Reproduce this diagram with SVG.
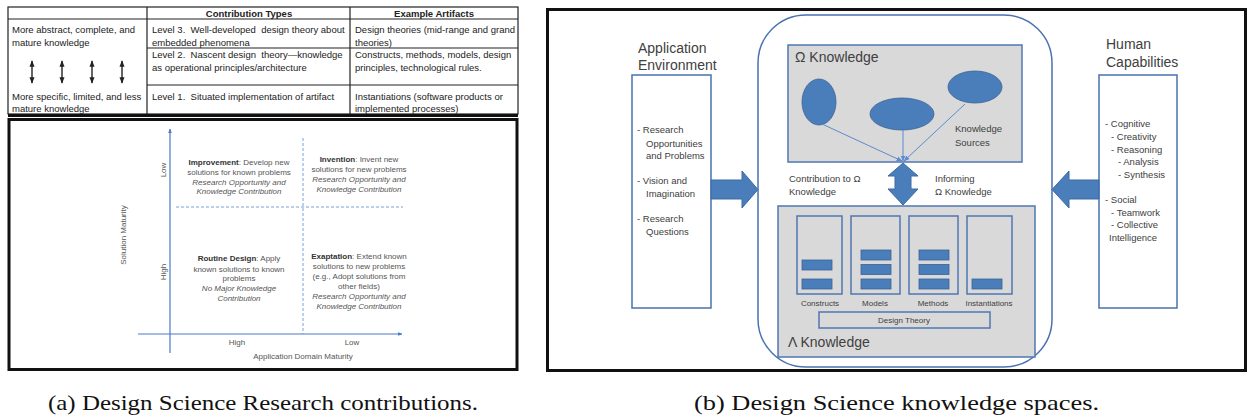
<svg xmlns="http://www.w3.org/2000/svg" width="1249" height="419" viewBox="0 0 1249 419">
<style>
.tb{font-family:"Liberation Sans",Arial,sans-serif;font-size:9.5px;fill:#222}
.pre{white-space:pre}
.tbh{font-family:"Liberation Sans",Arial,sans-serif;font-size:9.5px;font-weight:bold;fill:#222;text-anchor:middle}
.ch{font-family:"Liberation Sans",Arial,sans-serif;font-size:8px;fill:#555;text-anchor:middle}
.chi{font-style:italic}
.chb{font-weight:bold;fill:#333}
.rp{font-family:"Liberation Sans",Arial,sans-serif;fill:#404040}
.t14{font-size:14px}
.t9{font-size:9.5px}
.t8{font-size:8px;text-anchor:middle}
.cap{font-family:"Liberation Serif","Times New Roman",serif;font-size:21px;fill:#111}
.bl{stroke:#4a72b0;stroke-width:1.5;fill:none}
.gbox{fill:#d9d9d9;stroke:#4f77b3;stroke-width:1.5}
.bar{fill:#4a7ebb;stroke:#3a6296;stroke-width:0.8}
.bigarrow{fill:#4a7ebb;stroke:#3c6aa5;stroke-width:1}
.ax{stroke:#4a7bc4;stroke-width:1.2;fill:none}
.dash{stroke:#7aa2d8;stroke-width:1;stroke-dasharray:3,2;fill:none}
.thin{stroke:#5b8bd0;stroke-width:1;fill:none}
</style>
<defs>
<marker id="dbl" viewBox="0 0 10 10" refX="9" refY="5" markerWidth="4.5" markerHeight="4.5" orient="auto-start-reverse">
<path d="M0,1 L10,5 L0,9 Z" fill="#222"/>
</marker>
<marker id="axh" viewBox="0 0 10 10" refX="9" refY="5" markerWidth="4" markerHeight="4" orient="auto">
<path d="M0,1 L10,5 L0,9 Z" fill="#4a7bc4"/>
</marker>
<marker id="tip" viewBox="0 0 10 10" refX="9" refY="5" markerWidth="6" markerHeight="6" orient="auto">
<path d="M0,1 L10,5 L0,9 Z" fill="#5b8bd0"/>
</marker>
</defs>
<rect width="1249" height="419" fill="#fff"/>

<!-- (a) Table -->
<g id="table">
<rect x="8" y="7" width="510" height="107" fill="#fff" stroke="#222" stroke-width="1.2"/>
<line x1="8" y1="19" x2="518" y2="19" stroke="#222" stroke-width="1.2"/>
<line x1="147" y1="7" x2="147" y2="114" stroke="#222" stroke-width="1.2"/>
<line x1="350" y1="7" x2="350" y2="114" stroke="#222" stroke-width="1.2"/>
<line x1="147" y1="48" x2="518" y2="48" stroke="#222" stroke-width="1.2"/>
<line x1="147" y1="85" x2="518" y2="85" stroke="#222" stroke-width="1.2"/>
<line x1="8" y1="115.5" x2="518" y2="115.5" stroke="#111" stroke-width="3"/>
<text class="tbh" x="249" y="17">Contribution Types</text>
<text class="tbh" x="434" y="17">Example Artifacts</text>
<text class="tb" x="12" y="32.5">More abstract, complete, and</text>
<text class="tb" x="12" y="45.5">mature knowledge</text>
<text class="tb" x="12" y="99.5">More specific, limited, and less</text>
<text class="tb" x="12" y="111.5">mature knowledge</text>
<text class="tb pre" x="152" y="32.5">Level 3.  Well-developed  design theory about</text>
<text class="tb" x="152" y="45.5">embedded phenomena</text>
<text class="tb pre" x="152" y="57.5">Level 2.  Nascent design  theory—knowledge</text>
<text class="tb" x="152" y="71">as operational principles/architecture</text>
<text class="tb pre" x="152" y="99.5">Level 1.  Situated implementation of artifact</text>
<text class="tb" x="355" y="32.5">Design theories (mid-range and grand</text>
<text class="tb" x="355" y="45.5">theories)</text>
<text class="tb" x="355" y="57.5">Constructs, methods, models, design</text>
<text class="tb" x="355" y="71">principles, technological rules.</text>
<text class="tb" x="355" y="99.5">Instantiations (software products or</text>
<text class="tb" x="355" y="111.5">implemented processes)</text>
<g stroke="#222" stroke-width="1.4" marker-start="url(#dbl)" marker-end="url(#dbl)">
<line x1="32" y1="61" x2="32" y2="83"/>
<line x1="62" y1="61" x2="62" y2="83"/>
<line x1="92" y1="61" x2="92" y2="83"/>
<line x1="122" y1="61" x2="122" y2="83"/>
</g>
</g>

<!-- (a) Chart -->
<g id="chart">
<rect x="9" y="119.5" width="508" height="250" fill="#fff" stroke="#111" stroke-width="3"/>
<line class="ax" x1="170" y1="353" x2="170" y2="129" marker-end="url(#axh)"/>
<line class="ax" x1="138" y1="334" x2="402" y2="334" marker-end="url(#axh)"/>
<line class="dash" x1="176" y1="207" x2="403" y2="207"/>
<line class="dash" x1="303" y1="138" x2="303" y2="334"/>
<text class="ch" transform="translate(126,235) rotate(-90)">Solution Maturity</text>
<text class="ch" transform="translate(166,170) rotate(-90)">Low</text>
<text class="ch" transform="translate(166,272) rotate(-90)">High</text>
<text class="ch" x="237" y="345">High</text>
<text class="ch" x="352" y="345">Low</text>
<text class="ch" x="303" y="359">Application Domain Maturity</text>
<g id="improvement">
<text class="ch" x="239" y="165"><tspan class="chb">Improvement</tspan>: Develop new</text>
<text class="ch" x="239" y="174.5">solutions for known problems</text>
<text class="ch chi" x="239" y="184.5">Research Opportunity and</text>
<text class="ch chi" x="239" y="194">Knowledge Contribution</text>
</g>
<g id="invention">
<text class="ch" x="359" y="162"><tspan class="chb">Invention</tspan>: Invent new</text>
<text class="ch" x="359" y="172">solutions for new problems</text>
<text class="ch chi" x="359" y="182">Research Opportunity and</text>
<text class="ch chi" x="359" y="192">Knowledge Contribution</text>
</g>
<g id="routine">
<text class="ch" x="239" y="261"><tspan class="chb">Routine Design</tspan>: Apply</text>
<text class="ch" x="239" y="271.5">known solutions to known</text>
<text class="ch" x="239" y="281">problems</text>
<text class="ch chi" x="239" y="291">No Major Knowledge</text>
<text class="ch chi" x="239" y="301">Contribution</text>
</g>
<g id="exaptation">
<text class="ch" x="359" y="259"><tspan class="chb">Exaptation</tspan>: Extend known</text>
<text class="ch" x="359" y="269">solutions to new problems</text>
<text class="ch" x="359" y="279">(e.g., Adopt solutions from</text>
<text class="ch" x="359" y="289">other fields)</text>
<text class="ch chi" x="359" y="299">Research Opportunity and</text>
<text class="ch chi" x="359" y="309">Knowledge Contribution</text>
</g>
</g>

<!-- (b) panel -->
<rect x="547.5" y="9.5" width="698" height="361" fill="#fff" stroke="#111" stroke-width="3"/>

<g id="app-env">
<text class="rp t14" x="638" y="53">Application</text>
<text class="rp t14" x="638" y="70">Environment</text>
<rect x="632" y="75" width="79" height="233" fill="#fff" stroke="#4a72b0" stroke-width="1.5"/>
<text class="rp t9" x="637" y="133">- Research</text>
<text class="rp t9" x="646" y="146.5">Opportunities</text>
<text class="rp t9" x="646" y="159">and Problems</text>
<text class="rp t9" x="637" y="184">- Vision and</text>
<text class="rp t9" x="646" y="197">Imagination</text>
<text class="rp t9" x="637" y="222">- Research</text>
<text class="rp t9" x="646" y="235">Questions</text>
</g>

<g id="human-cap">
<text class="rp t14" x="1106" y="49">Human</text>
<text class="rp t14" x="1106" y="67">Capabilities</text>
<rect x="1099" y="75" width="78" height="233" fill="#fff" stroke="#4a72b0" stroke-width="1.5"/>
<text class="rp t9" x="1105" y="127">- Cognitive</text>
<text class="rp t9" x="1111" y="140">- Creativity</text>
<text class="rp t9" x="1111" y="152.5">- Reasoning</text>
<text class="rp t9" x="1118" y="165">- Analysis</text>
<text class="rp t9" x="1118" y="178">- Synthesis</text>
<text class="rp t9" x="1105" y="203">- Social</text>
<text class="rp t9" x="1111" y="215.5">- Teamwork</text>
<text class="rp t9" x="1111" y="228">- Collective</text>
<text class="rp t9" x="1109" y="241">Intelligence</text>
</g>

<g id="knowledge-space">
<rect x="758" y="15" width="294" height="352" rx="48" ry="48" class="bl"/>
</g>

<g id="omega-knowledge">
<rect x="788" y="45" width="234" height="117" class="gbox"/>
<text class="rp t14" x="795" y="62">Ω Knowledge</text>
<ellipse cx="819" cy="102" rx="17" ry="23" class="bar" stroke-width="1"/>
<ellipse cx="902" cy="114" rx="32" ry="16" class="bar" stroke-width="1"/>
<ellipse cx="975" cy="87" rx="27" ry="16" class="bar" stroke-width="1"/>
<text class="rp t9" x="955" y="132">Knowledge</text>
<text class="rp t9" x="955" y="146">Sources</text>
</g>

<g id="lambda-knowledge">
<rect x="778" y="206" width="257" height="151" class="gbox"/>
<text class="rp t14" x="788" y="347">Λ Knowledge</text>
<g id="constructs">
<rect x="797" y="216" width="45" height="78" class="gbox"/>
<rect x="802" y="260" width="30" height="10" class="bar"/>
<rect x="802" y="279" width="30" height="10" class="bar"/>
<text class="rp t8" x="820" y="306">Constructs</text>
</g>
<g id="models">
<rect x="851" y="216" width="49" height="78" class="gbox"/>
<rect x="861" y="250" width="30" height="10" class="bar"/>
<rect x="861" y="264.5" width="30" height="10" class="bar"/>
<rect x="861" y="279" width="30" height="10" class="bar"/>
<text class="rp t8" x="875" y="306">Models</text>
</g>
<g id="methods">
<rect x="909" y="216" width="49" height="78" class="gbox"/>
<rect x="919" y="250" width="30" height="10" class="bar"/>
<rect x="919" y="264.5" width="30" height="10" class="bar"/>
<rect x="919" y="279" width="30" height="10" class="bar"/>
<text class="rp t8" x="933" y="306">Methods</text>
</g>
<g id="instantiations">
<rect x="967" y="216" width="45" height="78" class="gbox"/>
<rect x="972" y="279" width="30" height="10" class="bar"/>
<text class="rp t8" x="989" y="306">Instantiations</text>
</g>
<g id="design-theory">
<rect x="819" y="312" width="171" height="16" class="gbox"/>
<text class="rp t8" x="904" y="323">Design Theory</text>
</g>
</g>

<g id="connectors">
<line class="thin" x1="822" y1="124" x2="902" y2="161" marker-end="url(#tip)"/>
<line class="thin" x1="903" y1="130" x2="903" y2="161" marker-end="url(#tip)"/>
<line class="thin" x1="965" y1="104" x2="904" y2="161" marker-end="url(#tip)"/>
<polygon class="bigarrow" points="711,180 742,180 742,171 758,189.5 742,208 742,199 711,199"/>
<polygon class="bigarrow" points="1099,180 1069,180 1069,171 1052,189.5 1069,208 1069,199 1099,199"/>
<polygon class="bigarrow" points="903,163 918,176 911,176 911,189 918,189 903,205 888,189 895,189 895,176 888,176"/>
<text class="rp t9" x="789" y="181.5">Contribution to Ω</text>
<text class="rp t9" x="789" y="194.5">Knowledge</text>
<text class="rp t9" x="935" y="181.5">Informing</text>
<text class="rp t9" x="935" y="194.5">Ω Knowledge</text>
</g>

<text class="cap" x="48" y="410" textLength="430" lengthAdjust="spacingAndGlyphs">(a) Design Science Research contributions.</text>
<text class="cap" x="694" y="410" textLength="405" lengthAdjust="spacingAndGlyphs">(b) Design Science knowledge spaces.</text>
</svg>
